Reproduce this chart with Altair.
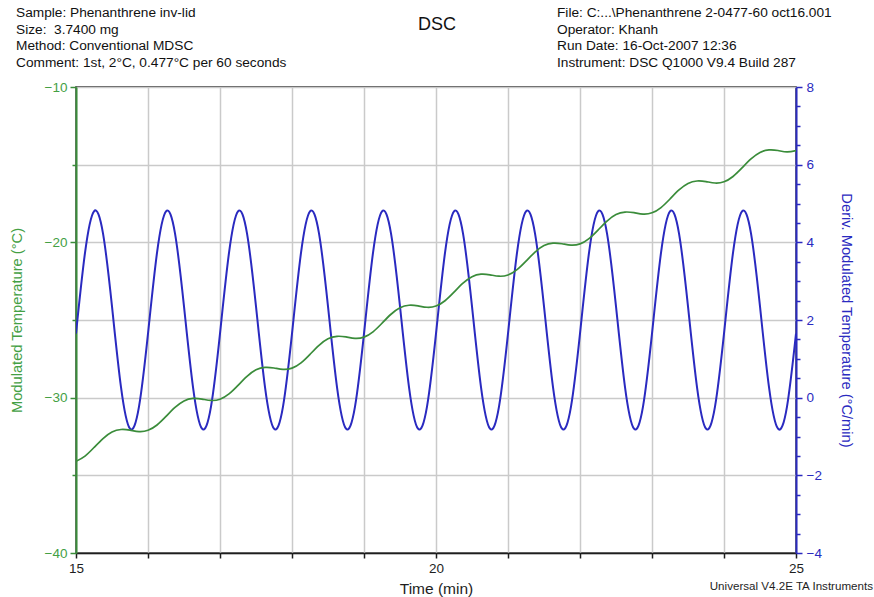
import altair as alt
import pandas as pd

# Sample times (min)
time_min = [
    15.0, 15.125, 15.25, 15.375, 15.5, 15.625, 15.75, 15.875,
    16.0, 16.125, 16.25, 16.375, 16.5, 16.625, 16.75, 16.875,
    17.0, 17.125, 17.25, 17.375, 17.5, 17.625, 17.75, 17.875,
    18.0, 18.125, 18.25, 18.375, 18.5, 18.625, 18.75, 18.875,
    19.0, 19.125, 19.25, 19.375, 19.5, 19.625, 19.75, 19.875,
    20.0, 20.125, 20.25, 20.375, 20.5, 20.625, 20.75, 20.875,
    21.0, 21.125, 21.25, 21.375, 21.5, 21.625, 21.75, 21.875,
    22.0, 22.125, 22.25, 22.375, 22.5, 22.625, 22.75, 22.875,
    23.0, 23.125, 23.25, 23.375, 23.5, 23.625, 23.75, 23.875,
    24.0, 24.125, 24.25, 24.375, 24.5, 24.625, 24.75, 24.875,
    25.0,
]

# Modulated temperature (°C)
mod_temp = [
    -34.10, -33.76, -33.21, -32.63, -32.21, -32.05, -32.09, -32.18,
    -32.10, -31.76, -31.21, -30.63, -30.21, -30.05, -30.09, -30.18,
    -30.10, -29.76, -29.21, -28.63, -28.21, -28.05, -28.09, -28.18,
    -28.10, -27.76, -27.21, -26.63, -26.21, -26.05, -26.09, -26.18,
    -26.10, -25.76, -25.21, -24.63, -24.21, -24.05, -24.09, -24.18,
    -24.10, -23.76, -23.21, -22.63, -22.21, -22.05, -22.09, -22.18,
    -22.10, -21.76, -21.21, -20.63, -20.21, -20.05, -20.09, -20.18,
    -20.10, -19.76, -19.21, -18.63, -18.21, -18.05, -18.09, -18.18,
    -18.10, -17.76, -17.21, -16.63, -16.21, -16.05, -16.09, -16.18,
    -16.10, -15.76, -15.21, -14.63, -14.21, -14.05, -14.09, -14.18,
    -14.10,
]

# Derivative of modulated temperature (°C/min)
deriv_mod_temp = [
    1.65, 3.73, 4.80, 4.23, 2.35, 0.27, -0.80, -0.23,
    1.65, 3.73, 4.80, 4.23, 2.35, 0.27, -0.80, -0.23,
    1.65, 3.73, 4.80, 4.23, 2.35, 0.27, -0.80, -0.23,
    1.65, 3.73, 4.80, 4.23, 2.35, 0.27, -0.80, -0.23,
    1.65, 3.73, 4.80, 4.23, 2.35, 0.27, -0.80, -0.23,
    1.65, 3.73, 4.80, 4.23, 2.35, 0.27, -0.80, -0.23,
    1.65, 3.73, 4.80, 4.23, 2.35, 0.27, -0.80, -0.23,
    1.65, 3.73, 4.80, 4.23, 2.35, 0.27, -0.80, -0.23,
    1.65, 3.73, 4.80, 4.23, 2.35, 0.27, -0.80, -0.23,
    1.65, 3.73, 4.80, 4.23, 2.35, 0.27, -0.80, -0.23,
    1.65,
]

header_left = [
    "Sample: Phenanthrene inv-lid",
    "Size:\u00a0 3.7400 mg",
    "Method: Conventional MDSC",
    "Comment: 1st, 2°C, 0.477°C per 60 seconds",
]
header_right = [
    "File: C:...\\Phenanthrene 2-0477-60 oct16.001",
    "Operator: Khanh",
    "Run Date: 16-Oct-2007 12:36",
    "Instrument: DSC Q1000 V9.4 Build 287",
]
chart_title = "DSC"
footer = "Universal V4.2E TA Instruments"

x_ticks = [15, 16, 17, 18, 19, 20, 21, 22, 23, 24, 25]
left_ticks = [-40, -35, -30, -25, -20, -15, -10]
right_ticks = [-4, -3.5, -3, -2.5, -2, -1.5, -1, -0.5, 0, 0.5, 1, 1.5, 2,
               2.5, 3, 3.5, 4, 4.5, 5, 5.5, 6, 6.5, 7, 7.5, 8]

GREEN = "#3a8c3a"
GREEN_TXT = "#44a044"
BLUE = "#2a2ac0"
GRID = "#cacaca"
INK = "#1e1e1e"
FONT = "Liberation Sans"

W, H = 720, 466

df = pd.DataFrame({"time": time_min, "temp": mod_temp, "deriv": deriv_mod_temp})

x_enc = alt.X(
    "time:Q",
    scale=alt.Scale(domain=[15, 25], nice=False, zero=False),
    axis=alt.Axis(
        values=x_ticks,
        labelExpr="datum.value % 5 == 0 ? datum.label : ''",
        labelFlush=False,
        grid=True, gridColor=GRID, gridWidth=1.5,
        domainColor=INK, domainWidth=1.5,
        tickColor=INK, tickSize=5, tickWidth=1.5,
        labelColor=INK, labelFontSize=13.5, labelFont=FONT, labelPadding=3,
        title="Time (min)", titleFont=FONT, titleFontSize=15.5,
        titleFontWeight="normal", titleColor=INK,
        titleY=35, titleBaseline="middle",
    ),
)

deriv_line = alt.Chart(df).mark_line(
    color=BLUE, strokeWidth=2, interpolate="natural", clip=True
).encode(
    x=x_enc,
    y=alt.Y(
        "deriv:Q",
        scale=alt.Scale(domain=[-4, 8], nice=False, zero=False),
        axis=alt.Axis(
            orient="right", values=right_ticks,
            labelExpr="datum.value % 2 == 0 ? format(datum.value, 'd') : ''",
            labelFlush=False,
            grid=False,
            domainColor=BLUE, domainWidth=2,
            tickColor=BLUE, tickWidth=1.5,
            tickSize={"condition": {"test": "datum.value % 2 == 0", "value": 6}, "value": 4},
            labelColor=BLUE, labelFontSize=13.5, labelFont=FONT, labelPadding=4,
            title="Deriv. Modulated Temperature (°C/min)",
            titleFont=FONT, titleFontSize=14.7, titleFontWeight="normal",
            titleColor=BLUE, titleX=49, titleBaseline="middle",
        ),
    ),
)

temp_line = alt.Chart(df).mark_line(
    color=GREEN, strokeWidth=1.7, interpolate="natural", clip=True
).encode(
    x=x_enc,
    y=alt.Y(
        "temp:Q",
        scale=alt.Scale(domain=[-40, -10], nice=False, zero=False),
        axis=alt.Axis(
            orient="left", values=left_ticks,
            labelExpr="datum.value % 10 == 0 ? datum.label : ''",
            labelFlush=False,
            grid=True, gridColor=GRID, gridWidth=1.5,
            domainColor=GREEN, domainWidth=2,
            tickColor=GREEN, tickWidth=1.5,
            tickSize={"condition": {"test": "datum.value % 10 == 0", "value": 6}, "value": 4},
            labelColor=GREEN_TXT, labelFontSize=13.5, labelFont=FONT, labelPadding=3,
            title="Modulated Temperature (°C)",
            titleFont=FONT, titleFontSize=14.7, titleFontWeight="normal",
            titleColor=GREEN_TXT, titleX=-59, titleBaseline="middle",
        ),
    ),
)

anchor = pd.DataFrame({"k": [0]})

left_text = alt.Chart(anchor).mark_text(
    align="left", baseline="alphabetic", font=FONT, fontSize=13.7,
    lineHeight=16.5, color="#111111",
).encode(x=alt.value(16 - 76), y=alt.value(-70), text=alt.value(header_left))

right_text = alt.Chart(anchor).mark_text(
    align="left", baseline="alphabetic", font=FONT, fontSize=13.7,
    lineHeight=16.5, color="#111111",
).encode(x=alt.value(557 - 76), y=alt.value(-70), text=alt.value(header_right))

title_text = alt.Chart(anchor).mark_text(
    align="center", baseline="middle", font=FONT, fontSize=18, color="#111111",
).encode(x=alt.value(437 - 76), y=alt.value(25 - 87), text=alt.value(chart_title))

footer_text = alt.Chart(anchor).mark_text(
    align="right", baseline="middle", font=FONT, fontSize=11.6, color=INK,
).encode(x=alt.value(873 - 76), y=alt.value(587 - 87), text=alt.value(footer))

chart = (
    alt.layer(deriv_line, temp_line, left_text, right_text, title_text, footer_text)
    .resolve_scale(y="independent")
    .properties(
        width=W, height=H,
        autosize=alt.AutoSizeParams(type="none"),
        padding={"left": 76, "top": 87, "right": 78, "bottom": 44},
        background="white",
    )
    .configure_view(stroke=INK, strokeWidth=1.5)
)

chart.save("out.html", embed_options={"renderer": "svg", "actions": False})
